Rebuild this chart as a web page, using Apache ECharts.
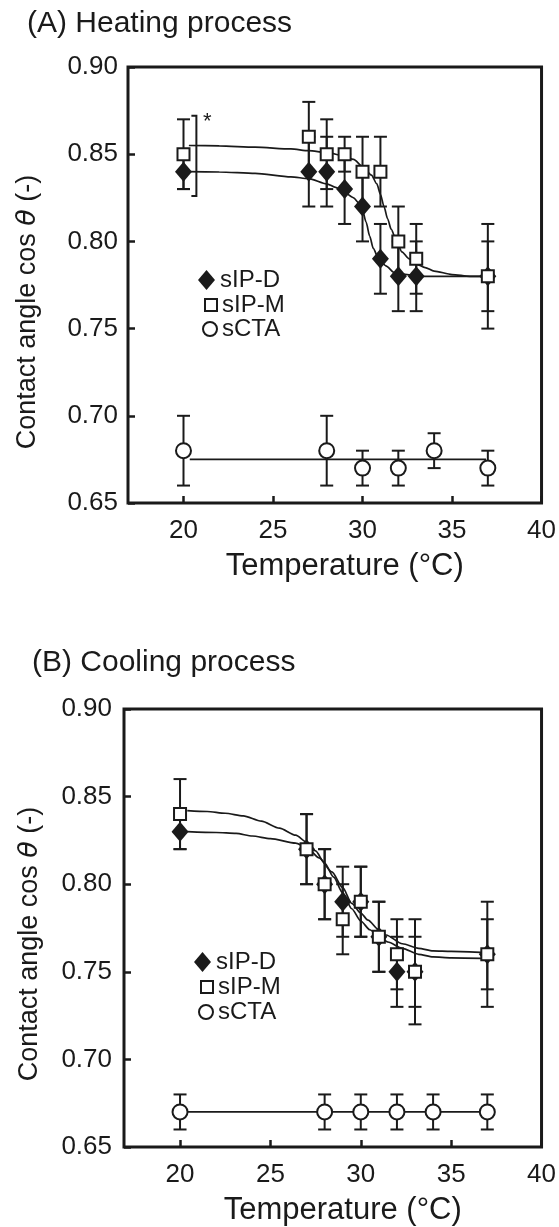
<!DOCTYPE html>
<html><head><meta charset="utf-8">
<script src="https://cdn.jsdelivr.net/npm/echarts@6/dist/echarts.min.js"></script>
<style>html,body{margin:0;padding:0;background:#fff}#c{width:559px;height:1227px}</style>
</head><body><div id="c"></div>
<script>
// ---------- tick labels ----------
const xTickValues = [20, 25, 30, 35, 40];
const yMin = 0.65, yMax = 0.90, yStep = 0.05;

// ---------- (A) Heating process ----------
const heatTempIP = [20, 27, 28, 29, 30, 31, 32, 33, 37];
const heatIPD    = [0.84, 0.84, 0.84, 0.83, 0.82, 0.79, 0.78, 0.78, 0.78];
const heatIPDErr = [0.01, 0.02, 0.02, 0.02, 0.02, 0.02, 0.02, 0.02, 0.02];
const heatIPM    = [0.85, 0.86, 0.85, 0.85, 0.84, 0.84, 0.80, 0.79, 0.78];
const heatIPMErr = [0.02, 0.02, 0.02, 0.01, 0.02, 0.02, 0.02, 0.02, 0.03];
const heatTempCTA = [20, 28, 30, 32, 34, 37];
const heatCTA     = [0.68, 0.68, 0.67, 0.67, 0.68, 0.67];
const heatCTAErr  = [0.02, 0.02, 0.01, 0.01, 0.01, 0.01];
// fitted curves
const heatFitDx = [20.3, 22, 24, 26, 27, 28, 28.5, 29, 29.5, 29.8, 30.0, 30.2, 30.4, 30.6, 30.9, 31.3, 31.8, 32.5, 33, 35, 37];
const heatFitDy = [0.840, 0.8398, 0.839, 0.837, 0.836, 0.833, 0.831, 0.828, 0.825, 0.822, 0.818, 0.811, 0.803, 0.796, 0.790, 0.786, 0.782, 0.781, 0.780, 0.780, 0.780];
const heatFitMx = [20.3, 22, 24, 26, 27, 28, 29, 29.5, 30, 30.5, 30.8, 31.0, 31.2, 31.4, 31.6, 31.9, 32.2, 32.6, 33.0, 33.5, 34, 35, 36, 37];
const heatFitMy = [0.855, 0.8548, 0.854, 0.853, 0.852, 0.851, 0.849, 0.847, 0.843, 0.838, 0.833, 0.827, 0.820, 0.813, 0.807, 0.800, 0.794, 0.790, 0.787, 0.785, 0.783, 0.781, 0.780, 0.780];
const heatFitCx = [20.35, 36.9];
const heatFitCy = [0.675, 0.675];
const heatBracket = [[20.72, 0.826, 0.872]];

// ---------- (B) Cooling process ----------
const coolTempIP = [20, 27, 28, 29, 30, 31, 32, 33, 37];
const coolIPD    = [0.83, 0.82, 0.80, 0.79, 0.79, 0.77, 0.75, 0.75, 0.76];
const coolIPDErr = [0.01, 0.02, 0.02, 0.02, 0.02, 0.02, 0.02, 0.02, 0.02];
const coolIPM    = [0.84, 0.82, 0.80, 0.78, 0.79, 0.77, 0.76, 0.75, 0.76];
const coolIPMErr = [0.02, 0.02, 0.02, 0.02, 0.02, 0.02, 0.02, 0.03, 0.03];
const coolTempCTA = [20, 28, 30, 32, 34, 37];
const coolCTA     = [0.67, 0.67, 0.67, 0.67, 0.67, 0.67];
const coolCTAErr  = [0.01, 0.01, 0.01, 0.01, 0.01, 0.01];
const coolFitDx = [20.4, 22, 23.1, 24, 25, 26.4, 27, 27.7, 28.4, 29, 29.5, 30, 30.4, 31, 31.4, 32.3, 33.2, 34, 35, 37];
const coolFitDy = [0.830, 0.8295, 0.829, 0.8275, 0.826, 0.8234, 0.821, 0.815, 0.807, 0.798, 0.789, 0.7835, 0.7795, 0.774, 0.771, 0.766, 0.7634, 0.762, 0.7617, 0.761];
const coolFitMx = [20.4, 21.5, 22.5, 23.5, 24.5, 25.5, 26.4, 27, 27.5, 28, 28.5, 29, 29.5, 30, 30.5, 31, 31.5, 32.3, 33.2, 34, 35, 37];
const coolFitMy = [0.842, 0.8415, 0.8405, 0.839, 0.836, 0.832, 0.828, 0.824, 0.819, 0.812, 0.804, 0.795, 0.786, 0.779, 0.774, 0.770, 0.767, 0.7634, 0.760, 0.7585, 0.758, 0.7577];
const coolFitCx = [20, 37];
const coolFitCy = [0.67, 0.67];

const F = "'Liberation Sans', Arial, Helvetica, sans-serif";
const INK = '#1a1a1a';

const pairs = (xs, ys) => xs.map((x, i) => [x, ys[i]]);
const bars = (xs, ys, es) => xs.map((x, i) => [x, +(ys[i] - es[i]).toFixed(3), +(ys[i] + es[i]).toFixed(3)]);

function errRender(params, api) {
  const x = api.value(0), lo = api.value(1), hi = api.value(2);
  const p1 = api.coord([x, lo]), p2 = api.coord([x, hi]);
  const w = 6.5;
  const st = { stroke: INK, lineWidth: 2 };
  return { type: 'group', children: [
    { type: 'line', shape: { x1: p1[0], y1: p1[1], x2: p2[0], y2: p2[1] }, style: st },
    { type: 'line', shape: { x1: p1[0] - w, y1: p1[1], x2: p1[0] + w, y2: p1[1] }, style: st },
    { type: 'line', shape: { x1: p2[0] - w, y1: p2[1], x2: p2[0] + w, y2: p2[1] }, style: st }
  ]};
}
function bracketRender(params, api) {
  const x = api.value(0), lo = api.value(1), hi = api.value(2);
  const p1 = api.coord([x, lo]), p2 = api.coord([x, hi]);
  const st = { stroke: INK, lineWidth: 2, fill: null };
  return { type: 'group', children: [
    { type: 'polyline', shape: { points: [[p2[0] - 5, p2[1]], [p2[0], p2[1]], [p1[0], p1[1]], [p1[0] - 5, p1[1]]] }, style: st },
    { type: 'text', x: p2[0] + 11, y: p2[1] + 6, style: { text: '*', fontSize: 22, fontFamily: F, fill: INK, align: 'center', verticalAlign: 'middle' } }
  ]};
}

function xAxis(gi) {
  return {
    type: 'value', gridIndex: gi, min: 16.9, max: 40,
    name: 'Temperature (°C)', nameLocation: 'middle', nameGap: 48,
    nameTextStyle: { fontSize: 31, fontFamily: F, color: INK, padding: [0, 0, 0, 20] },
    axisLine: { show: false },
    axisTick: { show: true, inside: true, length: 7, lineStyle: { width: 2.5, color: INK }, customValues: xTickValues },
    axisLabel: { fontSize: 26, fontFamily: F, color: INK, margin: 15, customValues: xTickValues },
    splitLine: { show: false }
  };
}
function yAxis(gi, gap, margin, shift) {
  return {
    type: 'value', gridIndex: gi, min: yMin, max: yMax, interval: yStep,
    name: 'Contact angle cos {it|θ} (-)', nameLocation: 'middle', nameGap: gap, nameRotate: 90,
    nameTextStyle: { fontSize: 27, fontFamily: F, color: INK, padding: [0, shift, 0, 0],
      rich: { it: { fontSize: 27, fontFamily: "'DejaVu Sans', 'Liberation Sans', sans-serif", fontStyle: 'italic', color: INK } } },
    axisLine: { show: false },
    axisTick: { show: true, inside: true, length: 7, lineStyle: { width: 2.5, color: INK } },
    axisLabel: { fontSize: 26, fontFamily: F, color: INK, margin: margin, formatter: v => v.toFixed(2) },
    splitLine: { show: false }
  };
}

function panelSeries(gi, d) {
  const ax = { xAxisIndex: gi, yAxisIndex: gi };
  const lineStyle = { color: INK, width: 1.7 };
  const s = [
    Object.assign({ type: 'line', name: 'fitD' + gi, data: pairs(d.fDx, d.fDy), smooth: 0.25, smoothMonotone: 'x', symbol: 'none', lineStyle, z: 1, silent: true }, ax),
    Object.assign({ type: 'line', name: 'fitM' + gi, data: pairs(d.fMx, d.fMy), smooth: 0.25, smoothMonotone: 'x', symbol: 'none', lineStyle, z: 1, silent: true }, ax),
    Object.assign({ type: 'line', name: 'fitC' + gi, data: pairs(d.fCx, d.fCy), symbol: 'none', lineStyle, z: 1, silent: true }, ax),
    Object.assign({ type: 'custom', name: 'errD' + gi, renderItem: errRender, data: bars(d.tIP, d.D, d.De), encode: { x: 0, y: [1, 2] }, z: 2, silent: true }, ax),
    Object.assign({ type: 'custom', name: 'errM' + gi, renderItem: errRender, data: bars(d.tIP, d.M, d.Me), encode: { x: 0, y: [1, 2] }, z: 2, silent: true }, ax),
    Object.assign({ type: 'custom', name: 'errC' + gi, renderItem: errRender, data: bars(d.tC, d.C, d.Ce), encode: { x: 0, y: [1, 2] }, z: 2, silent: true }, ax),
    Object.assign({ type: 'scatter', name: 'sIP-D', data: pairs(d.tIP, d.D), symbol: 'diamond', symbolSize: [17, 20],
      itemStyle: { color: INK, opacity: 1 }, z: 3 }, ax),
    Object.assign({ type: 'scatter', name: 'sIP-M', data: pairs(d.tIP, d.M), symbol: 'rect', symbolSize: 12,
      itemStyle: { color: '#fff', borderColor: INK, borderWidth: 2, opacity: 1 }, z: 4 }, ax),
    Object.assign({ type: 'scatter', name: 'sCTA', data: pairs(d.tC, d.C), symbol: 'circle', symbolSize: 15,
      itemStyle: { color: '#fff', borderColor: INK, borderWidth: 2, opacity: 1 }, z: 4 }, ax)
  ];
  if (d.br) s.push(Object.assign({ type: 'custom', name: 'bracket' + gi, renderItem: bracketRender, data: d.br, encode: { x: 0, y: [1, 2] }, z: 2, silent: true }, ax));
  return s;
}

function lg(name, icon, w, h, left, top) {
  return { data: [{ name, icon }], orient: 'vertical', left, top, itemWidth: w, itemHeight: h, padding: 0,
    selectedMode: false, textStyle: { fontSize: 24, fontFamily: F, color: INK } };
}

const chart = echarts.init(document.getElementById('c'), null, { renderer: 'canvas' });
chart.setOption({
  animation: false,
  backgroundColor: '#fff',
  title: [
    { text: '(A) Heating process', left: 27, top: 9, padding: 0, textStyle: { fontSize: 30, fontWeight: 'normal', fontFamily: F, color: INK } },
    { text: '(B) Cooling process', left: 32, top: 648, padding: 0, textStyle: { fontSize: 30, fontWeight: 'normal', fontFamily: F, color: INK } }
  ],
  grid: [
    { left: 128, top: 67, width: 419, height: 436, show: true, borderColor: INK, borderWidth: 3, containLabel: false },
    { left: 124, top: 709, width: 419, height: 438, show: true, borderColor: INK, borderWidth: 3, containLabel: false }
  ],
  xAxis: [xAxis(0), xAxis(1)],
  yAxis: [yAxis(0, 87, 10, 54), yAxis(1, 81, 12, 32)],
  legend: [
    lg('sIP-D', 'diamond', 17, 20, 198, 268),
    lg('sIP-M', 'rect', 12, 12, 204, 293),
    lg('sCTA', 'circle', 14, 14, 202, 317),
    lg('sIP-D', 'diamond', 17, 20, 194, 950),
    lg('sIP-M', 'rect', 12, 12, 200, 975),
    lg('sCTA', 'circle', 14, 14, 198, 1000)
  ],
  series: [].concat(
    panelSeries(0, { tIP: heatTempIP, D: heatIPD, De: heatIPDErr, M: heatIPM, Me: heatIPMErr, tC: heatTempCTA, C: heatCTA, Ce: heatCTAErr,
      fDx: heatFitDx, fDy: heatFitDy, fMx: heatFitMx, fMy: heatFitMy, fCx: heatFitCx, fCy: heatFitCy, br: heatBracket }),
    panelSeries(1, { tIP: coolTempIP, D: coolIPD, De: coolIPDErr, M: coolIPM, Me: coolIPMErr, tC: coolTempCTA, C: coolCTA, Ce: coolCTAErr,
      fDx: coolFitDx, fDy: coolFitDy, fMx: coolFitMx, fMy: coolFitMy, fCx: coolFitCx, fCy: coolFitCy })
  )
});
</script></body></html>
